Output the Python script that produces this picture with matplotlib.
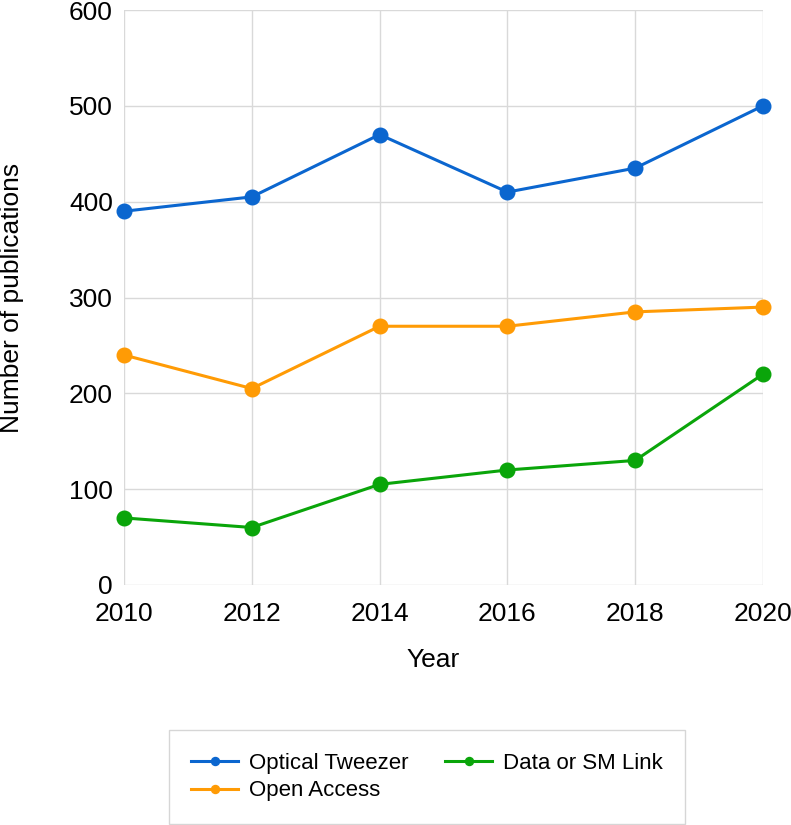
import matplotlib
matplotlib.use("Agg")
import matplotlib.pyplot as plt

plt.rcParams['font.family'] = ['Liberation Sans', 'DejaVu Sans']

years = [2010, 2012, 2014, 2016, 2018, 2020]
optical_tweezer = [390, 405, 470, 410, 435, 500]
open_access = [240, 205, 270, 270, 285, 290]
data_sm_link = [70, 60, 105, 120, 130, 220]
series_names = ["Optical Tweezer", "Open Access", "Data or SM Link"]
colors = ["#0b66cf", "#ff9b05", "#0aa50a"]

fig = plt.figure(figsize=(7.91, 8.25), dpi=100)
ax = fig.add_axes([124/791, 1-585/825, (763-124)/791, (585-10)/825])

handles = []
for vals, name, c in zip([optical_tweezer, open_access, data_sm_link], series_names, colors):
    h, = ax.plot(years, vals, color=c, lw=2.2, marker='o', markersize=10.5, label=name,
                 zorder=3, clip_on=False)
    handles.append(h)

ax.set_xlim(2010, 2020)
ax.set_ylim(0, 600)
ax.set_xticks(years)
ax.set_yticks(range(0, 601, 100))
ax.grid(True, color='#d9d9d9', lw=1.0)
ax.set_axisbelow(True)
for s in ax.spines.values():
    s.set_visible(False)
ax.tick_params(axis='both', length=0, labelsize=19)
ax.tick_params(axis='y', pad=8)
ax.tick_params(axis='x', pad=12)
ax.set_xlabel("Year", fontsize=19)
ax.set_ylabel("Number of publications", fontsize=19)
ax.xaxis.set_label_coords((433-124)/639, (585-660)/575)
ax.yaxis.set_label_coords((12-124)/639, 0.5)
ax.xaxis.label.set_va('center')
ax.yaxis.label.set_va('center')

leg = fig.legend(handles=handles, labels=series_names,
                 ncol=2, loc='center', bbox_to_anchor=(427/791, 1-777/825),
                 fontsize=16, frameon=True, fancybox=False, edgecolor='#cccccc',
                 borderpad=1.0, handlelength=2.1, handletextpad=0.5, columnspacing=1.65,
                 markerscale=0.55, labelspacing=0.3)
leg.get_frame().set_linewidth(1.0)

fig.savefig("out.png", dpi=100)
